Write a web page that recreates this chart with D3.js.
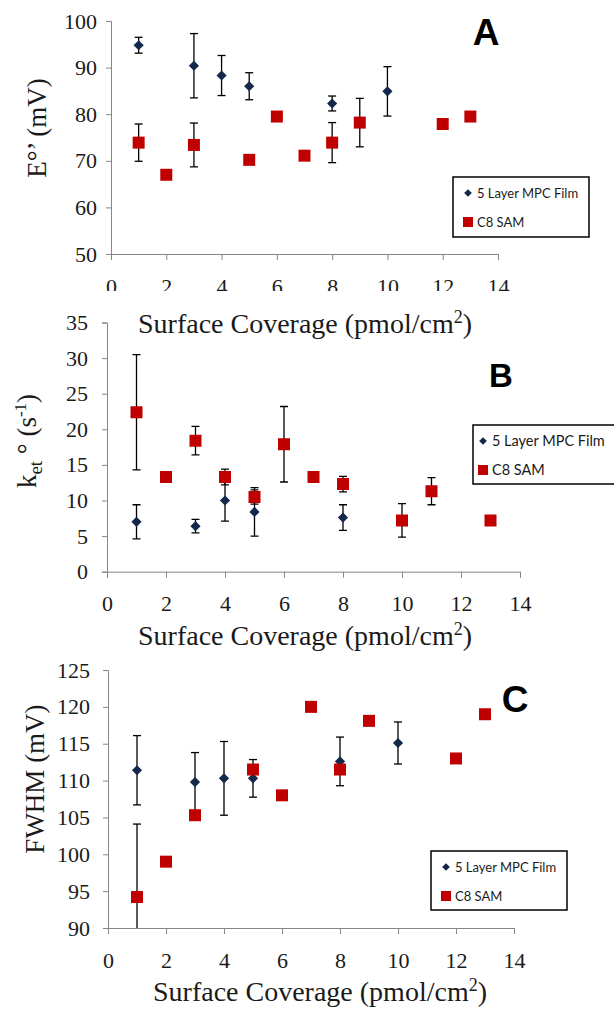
<!DOCTYPE html>
<html>
<head>
<meta charset="utf-8">
<script src="https://cdn.jsdelivr.net/npm/d3@7"></script>
<style>
	body { margin: 0; background: #fff; }
	svg { display: block; }
</style>
</head>
<body>
<div id="chart"></div>
<script>
// surface coverage (pmol/cm2) ticks shared by all three panels
var xTicks = [0, 2, 4, 6, 8, 10, 12, 14];
var seriesNames = ["5 Layer MPC Film", "C8 SAM"];

// A : E°' (mV)
var aTicks = [50, 60, 70, 80, 90, 100];
var aMpcX = [1, 3, 4, 5, 8, 10];
var aMpcY = [94.8, 90.4, 88.3, 86.0, 82.3, 84.9];
var aMpcErr = [1.7, 6.9, 4.3, 2.9, 1.6, 5.3];
var aSamX = [1, 2, 3, 5, 6, 7, 8, 9, 12, 13];
var aSamY = [73.9, 67.0, 73.4, 70.2, 79.5, 71.1, 73.9, 78.2, 77.9, 79.5];
var aSamErr = [4.0, 0, 4.7, 0, 0, 0, 4.3, 5.2, 0, 0];

// B : ket° (s-1)
var bTicks = [0, 5, 10, 15, 20, 25, 30, 35];
var bMpcX = [1, 3, 4, 5, 8];
var bMpcY = [7.0, 6.4, 10.0, 8.4, 7.6];
var bMpcErr = [2.4, 0.95, 2.9, 3.4, 1.8];
var bSamX = [1, 2, 3, 4, 5, 6, 7, 8, 10, 11, 13];
var bSamY = [22.4, 13.3, 18.4, 13.3, 10.5, 17.9, 13.3, 12.3, 7.2, 11.3, 7.2];
var bSamErr = [8.1, 0, 2.0, 1.1, 1.0, 5.3, 0, 1.1, 2.35, 1.9, 0];

// C : FWHM (mV)
var cTicks = [90, 95, 100, 105, 110, 115, 120, 125];
var cMpcX = [1, 3, 4, 5, 8, 10];
var cMpcY = [111.4, 109.8, 110.3, 110.3, 112.6, 115.1];
var cMpcErr = [4.7, 4.0, 5.0, 2.55, 3.3, 2.85];
var cSamX = [1, 2, 3, 5, 6, 7, 8, 9, 12, 13];
var cSamY = [94.2, 99.0, 105.3, 111.5, 108.0, 120.0, 111.5, 118.1, 113.0, 119.0];
var cSamErr = [9.9, 0, 0, 0, 0, 0, 0, 0, 0, 0];

(function() {
	var width = 614, height = 1009;
	var navy = "#14284b", red = "#c00000", axisGray = "#868686";
	var serif = "'Liberation Serif', 'Times New Roman', serif";

	var svg = d3.select("#chart")
		.append("svg")
		.attr("width", width)
		.attr("height", height)
		.attr("font-family", serif)

	function pts(xs, ys, es) {
		return xs.map(function(x, i) { return { x: x, y: ys[i], e: es[i] } })
	}

	var panels = [
		{ id: "A", left: 111, right: 498, top: 21, bottom: 254, ticks: aTicks, labelGap: 14,
			mpc: pts(aMpcX, aMpcY, aMpcErr), sam: pts(aSamX, aSamY, aSamErr),
			clipTicks: 291, titleX: 305, titleY: 333, yTitle: [37, 128],
			letter: { x: 486, y: 45, size: 37 },
			legend: { x: 453, y: 177, w: 136, h: 60, font: 13 } },
		{ id: "B", left: 107, right: 520, top: 322.5, bottom: 571.7, ticks: bTicks, labelGap: 19,
			mpc: pts(bMpcX, bMpcY, bMpcErr), sam: pts(bSamX, bSamY, bSamErr),
			clipTicks: null, titleX: 305, titleY: 645, yTitle: [27, 441],
			letter: { x: 501, y: 387, size: 33 },
			legend: { x: 473, y: 425, w: 142, h: 59, font: 14.5 } },
		{ id: "C", left: 108, right: 514, top: 670, bottom: 928, ticks: cTicks, labelGap: 18,
			mpc: pts(cMpcX, cMpcY, cMpcErr), sam: pts(cSamX, cSamY, cSamErr),
			clipTicks: null, titleX: 320, titleY: 1001, yTitle: [35, 779],
			letter: { x: 515, y: 712, size: 37 },
			legend: { x: 431, y: 851, w: 136, h: 59, font: 13 } }
	]

	var diamond = d3.symbol().type(d3.symbolSquare).size(52)
	var square = d3.symbol().type(d3.symbolSquare).size(144)

	panels.forEach(function(p) {
		var g = svg.append("g").attr("class", "panel-" + p.id)

		var x = d3.scaleLinear().domain([0, 14]).range([p.left, p.right])
		var y = d3.scaleLinear().domain(d3.extent(p.ticks)).range([p.bottom, p.top])

		// clip for the error bars / points
		g.append("clipPath").attr("id", "clip" + p.id)
			.append("rect")
			.attr("x", p.left).attr("y", p.top)
			.attr("width", p.right - p.left + 20).attr("height", p.bottom - p.top)

		// y axis
		var yAxis = g.append("g")
			.attr("transform", "translate(" + p.left + ",0)")
			.call(d3.axisLeft(y).tickValues(p.ticks).tickSize(5).tickPadding(p.labelGap - 5))
			.attr("font-family", serif)
			.attr("font-size", 22)
		yAxis.select(".domain").attr("stroke", axisGray)
		yAxis.selectAll(".tick line").attr("stroke", axisGray)
		yAxis.selectAll(".tick text").attr("fill", "#1a1a1a")

		// x axis (panel A labels are cut off by panel B underneath)
		var xAxis = g.append("g")
			.attr("transform", "translate(0," + p.bottom + ")")
			.call(d3.axisBottom(x).tickValues(xTicks).tickSize(6).tickSizeOuter(6).tickPadding(18))
			.attr("font-family", serif)
			.attr("font-size", 22)
		xAxis.select(".domain").attr("stroke", axisGray)
		xAxis.selectAll(".tick line").attr("stroke", axisGray)
		xAxis.selectAll(".tick text").attr("fill", "#1a1a1a")
		if (p.clipTicks) {
			xAxis.append("clipPath").attr("id", "clipx" + p.id)
				.append("rect").attr("x", 0).attr("y", -p.bottom).attr("width", width).attr("height", p.clipTicks)
			xAxis.attr("clip-path", "url(#clipx" + p.id + ")")
		}

		// x title
		var xt = g.append("text")
			.attr("x", p.titleX)
			.attr("y", p.titleY)
			.attr("text-anchor", "middle")
			.attr("fill", "#1a1a1a")
			.attr("font-size", 28)
		xt.append("tspan").text("Surface Coverage (pmol/cm")
		xt.append("tspan").attr("dy", -10).attr("font-size", 18).text("2")
		xt.append("tspan").attr("dy", 10).text(")")

		// y title
		var yt = g.append("text")
			.attr("transform", "translate(" + p.yTitle[0] + "," + p.yTitle[1] + ") rotate(-90)")
			.attr("text-anchor", "middle")
			.attr("dy", "0.35em")
			.attr("fill", "#1a1a1a")
			.attr("font-size", 27)
		if (p.id === "A") {
			yt.text("E°’ (mV)")
		} else if (p.id === "B") {
			yt.append("tspan").text("k")
			yt.append("tspan").attr("dy", 6).attr("font-size", 19).text("et")
			yt.append("tspan").attr("dy", -6).text(" ° (s")
			yt.append("tspan").attr("dy", -10).attr("font-size", 17).text("-1")
			yt.append("tspan").attr("dy", 10).text(")")
		} else {
			yt.text("FWHM (mV)")
		}

		// data
		var plot = g.append("g").attr("clip-path", "url(#clip" + p.id + ")")

		function errorBars(data) {
			var withErr = data.filter(function(d) { return d.e > 0 })
			var eb = plot.append("g").attr("stroke", "#000").attr("stroke-width", 1.3)
			eb.selectAll(".stem").data(withErr).enter().append("line")
				.attr("x1", function(d) { return x(d.x) })
				.attr("x2", function(d) { return x(d.x) })
				.attr("y1", function(d) { return y(d.y - d.e) })
				.attr("y2", function(d) { return y(d.y + d.e) })
			eb.selectAll(".capTop").data(withErr).enter().append("line")
				.attr("x1", function(d) { return x(d.x) - 4 })
				.attr("x2", function(d) { return x(d.x) + 4 })
				.attr("y1", function(d) { return y(d.y + d.e) })
				.attr("y2", function(d) { return y(d.y + d.e) })
			eb.selectAll(".capBottom").data(withErr).enter().append("line")
				.attr("x1", function(d) { return x(d.x) - 4 })
				.attr("x2", function(d) { return x(d.x) + 4 })
				.attr("y1", function(d) { return y(d.y - d.e) })
				.attr("y2", function(d) { return y(d.y - d.e) })
		}

		errorBars(p.mpc)
		plot.selectAll(".mpc").data(p.mpc).enter().append("path")
			.attr("class", "mpc")
			.attr("d", diamond)
			.attr("fill", navy)
			.attr("transform", function(d) { return "translate(" + x(d.x) + "," + y(d.y) + ") rotate(45)" })

		errorBars(p.sam)
		plot.selectAll(".sam").data(p.sam).enter().append("path")
			.attr("class", "sam")
			.attr("d", square)
			.attr("fill", red)
			.attr("transform", function(d) { return "translate(" + x(d.x) + "," + y(d.y) + ")" })

		// panel letter
		g.append("text")
			.attr("x", p.letter.x)
			.attr("y", p.letter.y)
			.attr("text-anchor", "middle")
			.attr("font-family", "'Liberation Sans', Arial, sans-serif")
			.attr("font-weight", "bold")
			.attr("font-size", p.letter.size)
			.text(p.id)

		// legend
		var L = p.legend
		var lg = g.append("g")
		lg.append("rect")
			.attr("x", L.x).attr("y", L.y)
			.attr("width", L.w).attr("height", L.h)
			.attr("fill", "#fff").attr("stroke", "#000").attr("stroke-width", 1.5)
		var mx = L.x + (p.id === "B" ? 10 : 15)
		var row1 = L.y + 16, row2 = L.y + 45
		lg.append("path")
			.attr("d", d3.symbol().type(d3.symbolSquare).size(30))
			.attr("fill", navy)
			.attr("transform", "translate(" + mx + "," + row1 + ") rotate(45)")
		lg.append("rect")
			.attr("x", mx - 5).attr("y", row2 - 5).attr("width", 10).attr("height", 10)
			.attr("fill", red)
		lg.selectAll(".lt").data(seriesNames).enter().append("text")
			.attr("x", mx + 9)
			.attr("y", function(d, i) { return (i === 0 ? row1 : row2) })
			.attr("dy", "0.35em")
			.attr("font-family", "Lato, 'Open Sans', sans-serif")
			.attr("font-size", L.font)
			.attr("fill", "#1a1a1a")
			.text(function(d) { return d })
	})
})();
</script>
</body>
</html>
